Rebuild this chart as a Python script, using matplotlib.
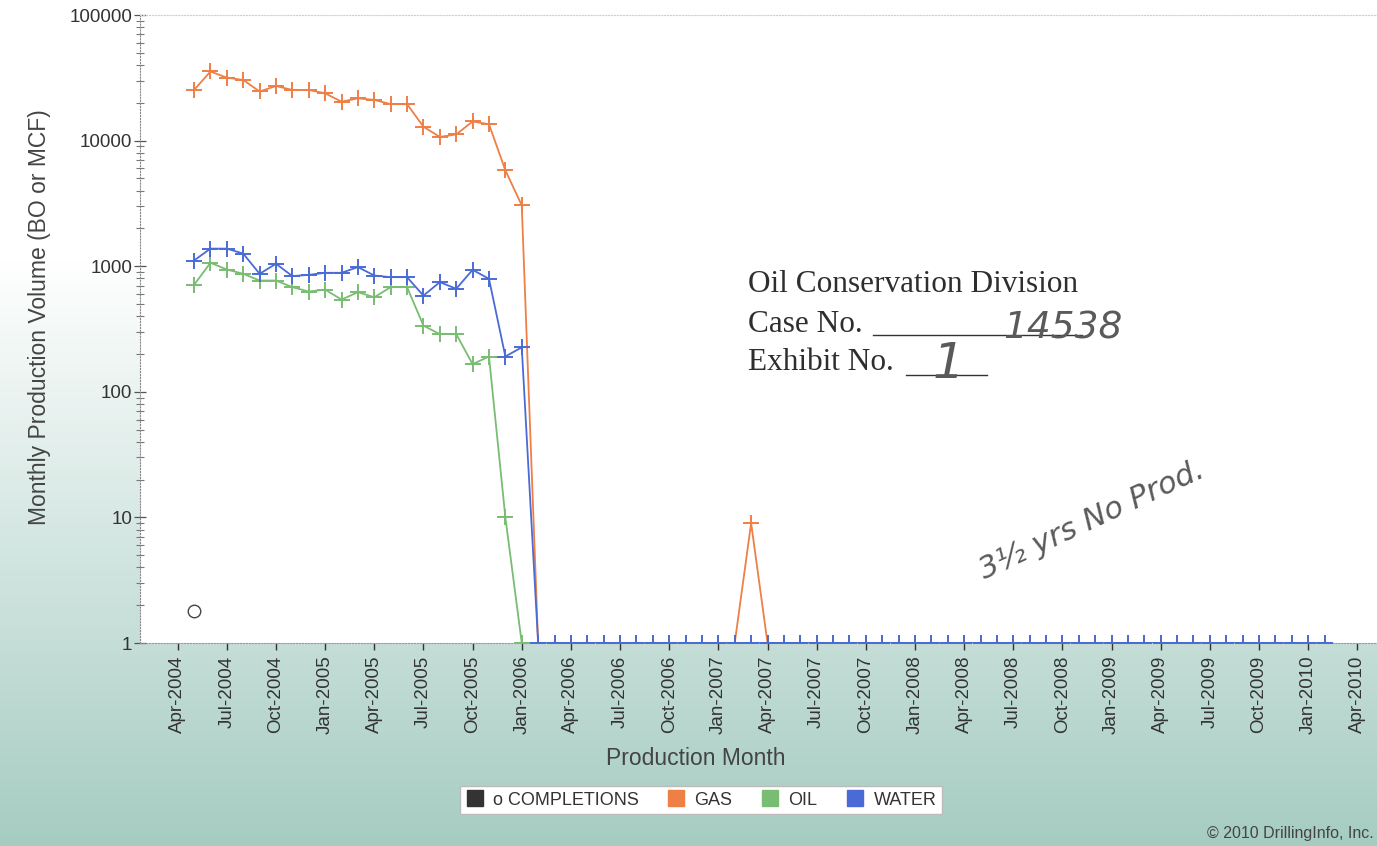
import numpy as np
import pandas as pd
import matplotlib
matplotlib.use('Agg')
import matplotlib.pyplot as plt
from matplotlib.lines import Line2D
from matplotlib.ticker import FixedLocator, FuncFormatter, LogLocator, NullFormatter

W, H = 1377, 846

# ---------------- data ----------------
months = pd.period_range('2004-05', '2010-02', freq='M')          # 70 production months
gas_active = [25300, 35500, 31700, 30400, 24600, 27200, 25300, 25300, 23800, 20400,
              21700, 21100, 19500, 19500, 12900, 10700, 11200, 14200, 13500, 5800, 3050]
oil_active = [710, 1065, 941, 870, 769, 769, 681, 628, 651, 542,
              621, 566, 681, 681, 336, 288, 288, 166, 191, 10]
water_active = [1110, 1380, 1380, 1260, 870, 1045, 834, 853, 886, 886,
                984, 843, 818, 818, 583, 747, 661, 935, 794, 191, 226]
gas = gas_active + [0] * 13 + [9] + [0] * 35
oil = oil_active + [0] * 50
water = water_active + [0] * 49
completion_month = pd.Period('2004-05', freq='M')
completion_value = 1.8
tick_months = pd.period_range('2004-04', '2010-04', freq='M')[::3]
y_ticks = [1, 10, 100, 1000, 10000, 100000]

def midx(p):
    return (p.year - 2004) * 12 + (p.month - 4)

x = np.array([midx(p) for p in months])
floor = 1.0
def clip(v):
    return np.maximum(np.asarray(v, dtype=float), floor)

# ---------------- figure ----------------
fig = plt.figure(figsize=(W / 100, H / 100), dpi=100)

# background gradient
bg = fig.add_axes([0, 0, 1, 1], zorder=-10)
rows = np.arange(H)
t = np.clip((rows - 260) / (H - 260), 0, 1) ** 1.0
white = np.array([1.0, 1.0, 1.0])
teal = np.array([0.65, 0.80, 0.76])
grad = (white[None, :] * (1 - t[:, None]) + teal[None, :] * t[:, None])
img = np.repeat(grad[:, None, :], 8, axis=1)
bg.imshow(img, aspect='auto', extent=[0, 1, 0, 1], origin='upper')
bg.set_axis_off()

ax = fig.add_axes([140 / W, 1 - 643 / H, 1 - 140 / W, (643 - 15) / H], zorder=1)
ax.set_facecolor('white')
ax.set_yscale('log')
ax.set_ylim(1, 1e5)
ax.set_xlim(-2.3, 73.2)

c_gas = '#ee7f45'
c_oil = '#79bd72'
c_water = '#4a6bd6'

kw = dict(lw=1.3, marker='+', ms=12, mew=1.4)
ax.plot(x, clip(gas), color=c_gas, **kw, zorder=3)
ax.plot(x, clip(oil), color=c_oil, **kw, zorder=4)
ax.plot(x, clip(water), color=c_water, **kw, zorder=5)
ax.plot([midx(completion_month)], [completion_value], ls='', marker='o', ms=9,
        mfc='none', mec='#444444', mew=1.0, zorder=6)

# axes styling
ax.spines['right'].set_visible(False)
ax.spines['top'].set_color('#d0d0d0')
ax.spines['top'].set_linestyle(':')
ax.spines['left'].set_color('#888888')
ax.spines['left'].set_linestyle(':')
ax.spines['bottom'].set_color('#999999')
ax.spines['bottom'].set_linestyle(':')

ax.yaxis.set_major_locator(FixedLocator(y_ticks))
ax.yaxis.set_major_formatter(FuncFormatter(lambda v, p: '%d' % round(v)))
ax.yaxis.set_minor_locator(LogLocator(base=10, subs=np.arange(2, 10)))
ax.yaxis.set_minor_formatter(NullFormatter())
ax.tick_params(axis='y', which='major', direction='inout', length=9, width=0.9,
               color='#555555', labelsize=13.5, labelcolor='#333333', pad=1)
ax.tick_params(axis='y', which='minor', direction='inout', length=6, width=0.8,
               color='#777777')

ax.xaxis.set_major_locator(FixedLocator([midx(p) for p in tick_months]))
ax.set_xticklabels([p.strftime('%b-%Y') for p in tick_months], rotation=90,
                   fontsize=13.5, color='#333333', family='Liberation Sans')
ax.tick_params(axis='x', which='major', direction='out', length=5, width=1.0,
               color='#333333', pad=4)
for lab in ax.get_yticklabels():
    lab.set_family('Liberation Sans')

ax.set_xlabel('Production Month', fontsize=16.5, color='#444444', family='Liberation Sans')
ax.xaxis.set_label_coords((696 - 140) / (W - 140), -(758 - 643) / 628)
ax.xaxis.label.set_va('center')
ax.set_ylabel('Monthly Production Volume (BO or MCF)', fontsize=16.5, color='#444444',
              family='Liberation Sans')
ax.yaxis.set_label_coords(-(140 - 40) / (W - 140), (643 - 317) / 628)
ax.yaxis.label.set_va('center')

# legend
handles = [Line2D([], [], ls='', marker='s', ms=12, color=c) for c in
           ['#333333', c_gas, c_oil, c_water]]
labels = ['o COMPLETIONS', 'GAS', 'OIL', 'WATER']
leg = fig.legend(handles, labels, ncol=4, loc='center', bbox_to_anchor=(701 / W, 1 - 800 / H),
                 frameon=True, fancybox=False, edgecolor='#bbbbbb', framealpha=1,
                 prop={'family': 'Liberation Sans', 'size': 13}, handletextpad=0.5,
                 columnspacing=1.6, handlelength=1.0, borderpad=0.3)
for txt in leg.get_texts():
    txt.set_color('#333333')

fig.text(1374 / W, 1 - 838 / H, '\u00a9 2010 DrillingInfo, Inc.', fontsize=11.5,
         color='#444444', family='Liberation Sans', va='baseline', ha='right')

# exhibit stamp
def fx(px):
    return px / W
def fy(py):
    return 1 - py / H

stamp_kw = dict(family='Liberation Serif', fontsize=22.5, color='#2e2e2e', va='baseline')
fig.text(fx(748), fy(292), 'Oil Conservation Division', **stamp_kw)
fig.text(fx(748), fy(332), 'Case No.', **stamp_kw)
fig.text(fx(748), fy(370), 'Exhibit No.', **stamp_kw)
fig.add_artist(Line2D([fx(873), fx(1082)], [fy(335), fy(335)], color='#333333', lw=1.0))
fig.add_artist(Line2D([fx(906), fx(987)], [fy(375), fy(375)], color='#333333', lw=1.0))

hand_kw = dict(family='DejaVu Sans', style='italic', color='#5a5a5a', fontweight='light')
fig.text(fx(1003), fy(338), '14538', fontsize=27, va='baseline', **hand_kw)
fig.text(fx(933), fy(378), '1', fontsize=36, va='baseline', **hand_kw)
fig.text(fx(1092), fy(520), '3\u00bd yrs No Prod.', fontsize=22, rotation=25,
         ha='center', va='center', **hand_kw)

fig.savefig('out.png', dpi=100)
